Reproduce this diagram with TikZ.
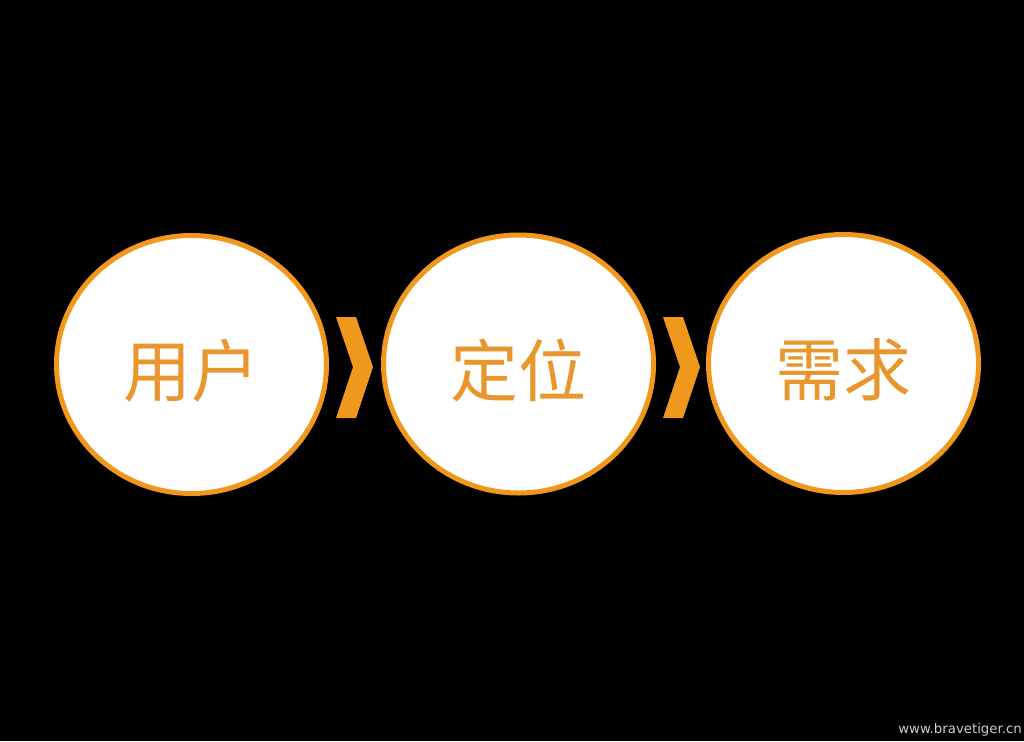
\documentclass[tikz,border=0pt]{standalone}
\usepackage{fontspec}
\newfontfamily\cjk{Noto Sans CJK SC}
\newfontfamily\wmfont{DejaVu Sans}
\definecolor{ringorange}{RGB}{240,152,28}
\definecolor{txtorange}{RGB}{232,150,45}
\definecolor{wmgray}{RGB}{205,205,205}
\newcommand{\bubtxt}[1]{\raisebox{-32pt}[0pt][0pt]{#1}}
\tikzset{
  bubble/.style={ellipse, draw=ringorange, line width=5pt, fill=white,
    minimum width=270pt, minimum height=258pt, inner sep=0pt,
    font=\cjk\fontsize{68}{68}\selectfont, text=txtorange},
  chev/.style={fill=ringorange, draw=none}
}
\usetikzlibrary{shapes.geometric}
\begin{document}
\begin{tikzpicture}[x=1pt,y=-1pt]
\fill[black] (0,0) rectangle (1024,741);
\useasboundingbox (0,0) rectangle (1024,741);
\node[bubble] (user) at (191.5,364.5) {\bubtxt{用户}};
\node[bubble] (pos) at (518.5,364) {\bubtxt{定位}};
\node[bubble] (need) at (843.5,363.5) {\bubtxt{需求}};
\fill[chev] (336,317) -- (356,317) -- (373,367) -- (356,418) -- (336,418) -- (353,367) -- cycle;
\fill[chev] (663,317) -- (683,317) -- (700,367) -- (683,418) -- (663,418) -- (680,367) -- cycle;
\node[anchor=east, text=wmgray, font=\wmfont\fontsize{13.3}{13.3}\selectfont, inner sep=0pt] (wm) at (1022,730) {www.bravetiger.cn};
\end{tikzpicture}
\end{document}
